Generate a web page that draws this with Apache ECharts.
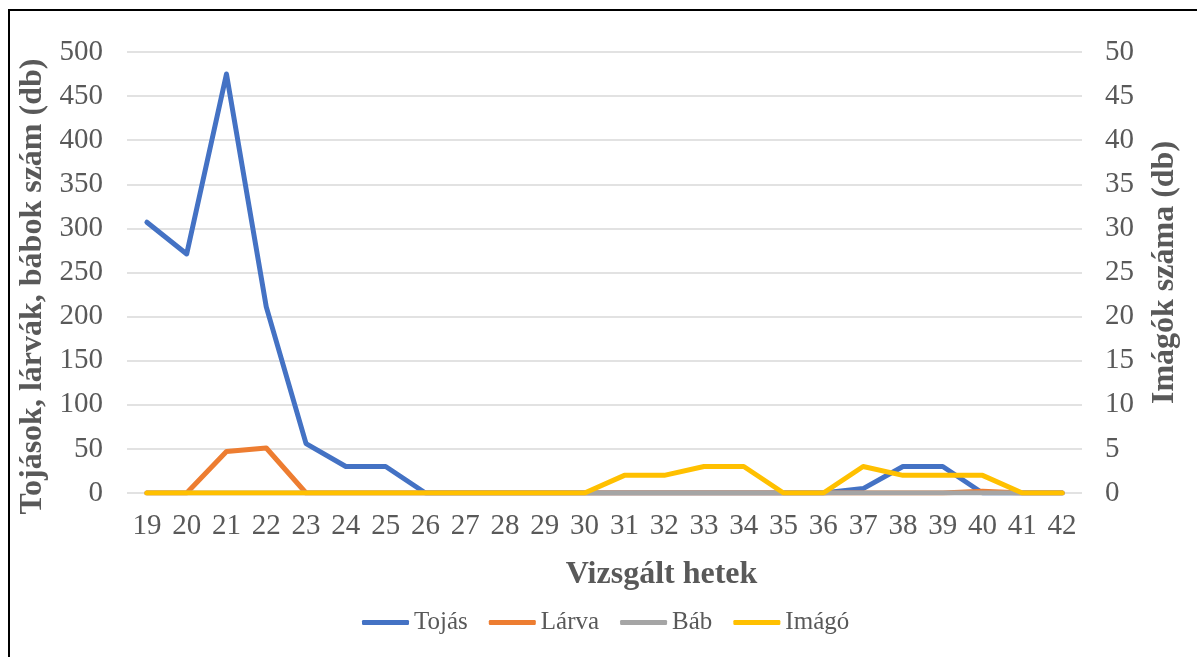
<!DOCTYPE html>
<html lang="hu">
<head>
    <meta charset="UTF-8">
    <title>Vizsgált hetek</title>
    <script src="https://cdn.jsdelivr.net/npm/echarts@6/dist/echarts.min.js"></script>
    <style>
        *{ padding:0; margin:0; }
        body{ background:#fff; }
        .keret{
            position:absolute;
            left:8px; top:9px;
            width:1300px; height:700px;
            border-left:2px solid #000;
            border-top:2px solid #000;
        }
        #abra{ position:absolute; left:0; top:0; width:1197px; height:657px; }
    </style>
</head>
<body>
<div class="keret"></div>
<div id="abra"></div>
<script type="text/javascript">
    var hetek = ['19','20','21','22','23','24','25','26','27','28','29','30','31','32','33','34','35','36','37','38','39','40','41','42'];
    var tojas = [307, 271, 475, 211, 56, 30, 30, 0, 0, 0, 0, 0, 0, 0, 0, 0, 0, 0, 5, 30, 30, 0, 0, 0];
    var larva = [0, 0, 47, 51, 0, 0, 0, 0, 0, 0, 0, 0, 0, 0, 0, 0, 0, 0, 0, 0, 0, 2, 0, 0];
    var bab   = [0, 0, 0, 0, 0, 0, 0, 0, 0, 0, 0, 0, 0, 0, 0, 0, 0, 0, 0, 0, 0, 0, 0, 0];
    var imago = [0, 0, 0, 0, 0, 0, 0, 0, 0, 0, 0, 0, 2, 2, 3, 3, 0, 0, 3, 2, 2, 2, 0, 0];

    var betu = '"Liberation Serif", "Times New Roman", serif';
    var szurke = '#595959';

    function vonal(nev, adat, szin, tengely){
        return {
            name: nev,
            type: 'line',
            yAxisIndex: tengely,
            data: adat,
            symbol: 'none',
            lineStyle: { color: szin, width: 5, cap: 'round', join: 'round' },
            itemStyle: { color: szin },
            emphasis: { disabled: true }
        };
    }

    var myChart = echarts.init(document.getElementById('abra'));
    var option = {
        animation: false,
        textStyle: { fontFamily: betu },
        grid: { left: 127, right: 115, top: 52, bottom: 164 },
        legend: {
            top: 605,
            left: 357,
            icon: 'roundRect',
            itemWidth: 47,
            itemHeight: 5,
            itemGap: 21,
            textStyle: { color: szurke, fontSize: 25, fontFamily: betu },
            data: ['Tojás', 'Lárva', 'Báb', 'Imágó']
        },
        xAxis: {
            type: 'category',
            data: hetek,
            boundaryGap: true,
            axisLine: { show: false },
            axisTick: { show: false },
            axisLabel: { color: szurke, fontSize: 29, margin: 19, fontFamily: betu },
            name: 'Vizsgált hetek',
            nameLocation: 'middle',
            nameGap: 66,
            nameTextStyle: { color: szurke, fontSize: 32, fontWeight: 'bold', fontFamily: betu, padding: [0, 0, 0, 114] }
        },
        yAxis: [{
            type: 'value',
            min: 0, max: 500, interval: 50,
            axisLine: { show: false },
            axisTick: { show: false },
            axisLabel: { color: szurke, fontSize: 29, margin: 24, fontFamily: betu },
            splitLine: { lineStyle: { color: '#d9d9d9', width: 1.5 } },
            name: 'Tojások, lárvák, bábok szám (db)',
            nameLocation: 'middle',
            nameGap: 71,
            nameTextStyle: { color: szurke, fontSize: 32, fontWeight: 'bold', fontFamily: betu, padding: [0, 28, 0, 0] }
        }, {
            type: 'value',
            min: 0, max: 50, interval: 5,
            axisLine: { show: false },
            axisTick: { show: false },
            axisLabel: { color: szurke, fontSize: 29, margin: 23, fontFamily: betu },
            splitLine: { show: false },
            name: 'Imágók száma (db)',
            nameLocation: 'middle',
            nameGap: 67,
            nameTextStyle: { color: szurke, fontSize: 32, fontWeight: 'bold', fontFamily: betu }
        }],
        series: [
            vonal('Tojás', tojas, '#4472C4', 0),
            vonal('Lárva', larva, '#ED7D31', 0),
            vonal('Báb', bab, '#A5A5A5', 0),
            vonal('Imágó', imago, '#FFC000', 1)
        ]
    };
    myChart.setOption(option);
</script>
</body>
</html>
